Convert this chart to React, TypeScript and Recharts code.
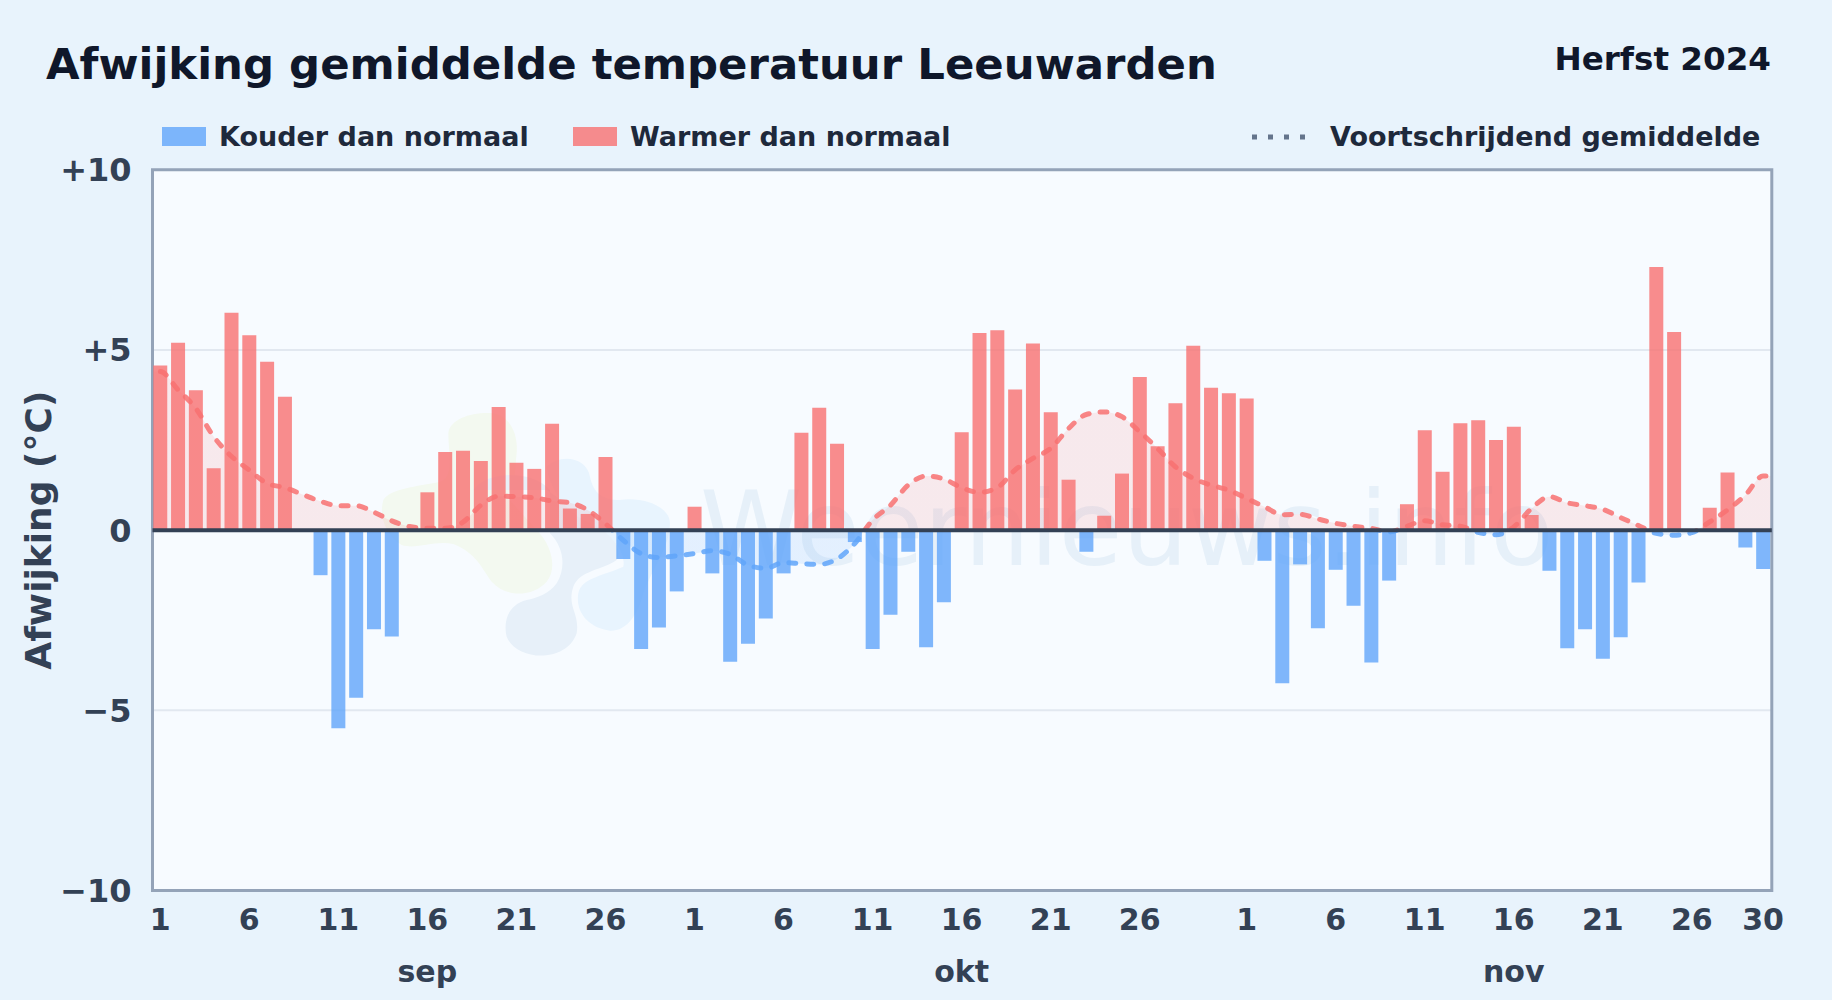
import { Area, Bar, CartesianGrid, Cell, ComposedChart, ReferenceArea, ReferenceLine, XAxis, YAxis } from 'recharts'

// afwijking per dag, 1 sep t/m 30 nov
const septemberValues = [
  4.57, 5.2, 3.88, 1.72, 6.03, 5.41, 4.67, 3.7, 0, -1.25, -5.5, -4.65, -2.75, -2.95, 0, 1.05, 2.17, 2.2, 1.92, 3.42,
  1.87, 1.7, 2.95, 0.6, 0.45, 2.03, -0.8, -3.3, -2.7, -1.7,
]
const oktoberValues = [
  0.65, -1.2, -3.65, -3.15, -2.45, -1.2, 2.7, 3.4, 2.4, -0.33, -3.3, -2.35, -0.6, -3.25, -2.0, 2.72, 5.47, 5.55, 3.9,
  5.18, 3.27, 1.4, -0.6, 0.4, 1.57, 4.25, 2.33, 3.52, 5.12, 3.95, 3.8,
]
const novemberValues = [
  3.65, -0.85, -4.25, -0.95, -2.72, -1.1, -2.1, -3.67, -1.4, 0.72, 2.77, 1.62, 2.97, 3.05, 2.5, 2.87, 0.42, -1.13,
  -3.28, -2.75, -3.57, -2.97, -1.45, 7.3, 5.5, 0, 0.62, 1.6, -0.48, -1.08,
]

// voortschrijdend gemiddelde per dag
const runningMean = [
  4.4, 3.9, 3.38, 2.6, 2.05, 1.67, 1.3, 1.18, 0.99, 0.8, 0.68, 0.68, 0.5, 0.26, 0.1, 0.05, 0.05, 0.22, 0.69, 0.94,
  0.93, 0.9, 0.81, 0.76, 0.56, 0.18, -0.28, -0.65, -0.76, -0.71, -0.65, -0.57, -0.67, -0.97, -1.06, -0.9, -0.93, -0.95,
  -0.8, -0.37, 0.28, 0.69, 1.25, 1.5, 1.42, 1.18, 1.05, 1.18, 1.67, 1.99, 2.27, 2.82, 3.21, 3.28, 3.15, 2.73, 2.27,
  1.76, 1.44, 1.25, 1.11, 0.88, 0.65, 0.43, 0.44, 0.31, 0.19, 0.11, 0.05, -0.05, 0.11, 0.26, 0.15, 0.11, -0.06, -0.13,
  0.09, 0.6, 0.93, 0.76, 0.68, 0.58, 0.35, 0.13, -0.09, -0.14, -0.07, 0.23, 0.56, 0.97, 1.5,
]

const yTicks = [-10, -5, 0, 5, 10]
const dayTicks = [1, 6, 11, 16, 21, 26, 31, 36, 41, 46, 51, 56, 62, 67, 72, 77, 82, 87, 91]
const dayTickLabels = ['1', '6', '11', '16', '21', '26', '1', '6', '11', '16', '21', '26', '1', '6', '11', '16', '21', '26', '30']
const monthTicks = [16, 46, 77]
const monthLabels = ['sep', 'okt', 'nov']

const WIDTH = 1832
const HEIGHT = 1000
const PLOT = { left: 152.5, right: 1771.8, top: 169.8, bottom: 890.5 }
const X_DOMAIN: [number, number] = [0.57, 91.49]

const RED = '#f87171'
const BLUE = '#60a5fa'
const FONT = '"DejaVu Sans", sans-serif'

const dayValues = [...septemberValues, ...oktoberValues, ...novemberValues]

// extra rij aan beide kanten zodat de lijn tot aan de rand doorloopt (wordt geclipt op de plot)
const rows = [
  { day: 0, mean: runningMean[0] },
  ...dayValues.map((value, i) => ({ day: i + 1, value, mean: runningMean[i] })),
  { day: 92, mean: runningMean[runningMean.length - 1] },
]

const formatY = (v: number) => (v > 0 ? `+${v}` : v < 0 ? `\u2212${-v}` : '0')
const formatDay = (v: number) => dayTickLabels[dayTicks.indexOf(v)] ?? ''
const formatMonth = (v: number) => monthLabels[monthTicks.indexOf(v)] ?? ''

const tickStyle = { fill: '#334155', fontSize: 30, fontWeight: 700, fontFamily: FONT }

// vage watermerk-vlekken achter de grafiek
function Watermark() {
  return (
    <svg width={WIDTH} height={HEIGHT} style={{ position: 'absolute', left: 0, top: 0 }}>
      <rect
        x={PLOT.left}
        y={PLOT.top}
        width={PLOT.right - PLOT.left}
        height={PLOT.bottom - PLOT.top}
        fill="#f7fbff"
      />
      <g transform="translate(360 390) scale(0.3333)">
        <path
          d="M265 130C270 85 340 65 400 70C450 80 475 130 470 190C465 230 470 270 440 320L530 420C580 470 590 540 560 575C520 620 440 625 395 575C365 535 350 490 280 462C220 450 170 480 125 465C80 440 55 380 70 330C90 295 170 290 240 275C285 260 265 190 265 130Z"
          fill="#f3f9f0"
        />
        <path
          d="M340 300C380 240 520 240 570 300L570 430C610 470 620 530 590 580C570 610 530 625 500 630C440 645 430 700 440 740C470 815 620 820 650 730C660 670 620 650 640 590C660 540 730 540 770 510C790 470 750 430 710 400L560 300Z"
          fill="#e7f0f9"
        />
        <path
          d="M560 230C600 190 680 200 690 260C700 310 730 330 780 330C850 320 930 350 930 400C930 470 880 530 850 610C830 690 790 725 750 722C690 715 645 670 655 610C665 565 720 560 790 530C800 480 740 420 690 400C620 370 570 300 560 230Z"
          fill="#e8f4fe"
        />
      </g>
      <text x={700} y={565} fontFamily={FONT} fontSize={103.5} fill="#e6f0f9">
        Weernieuws.info
      </text>
    </svg>
  )
}

function LegendBar() {
  const label = { position: 'absolute' as const, top: 120, fontSize: 27, fontWeight: 700, color: '#1e293b', lineHeight: '34px', whiteSpace: 'nowrap' as const }
  const swatch = { position: 'absolute' as const, top: 127, width: 44, height: 19 }
  return (
    <>
      <div style={{ ...swatch, left: 162, background: BLUE, opacity: 0.8 }} />
      <div style={{ ...label, left: 219 }}>Kouder dan normaal</div>
      <div style={{ ...swatch, left: 573, background: RED, opacity: 0.8 }} />
      <div style={{ ...label, left: 630 }}>Warmer dan normaal</div>
      <svg width={60} height={8} style={{ position: 'absolute', left: 1250, top: 133 }}>
        <line x1={2} y1={4} x2={58} y2={4} stroke="#64748b" strokeWidth={5} strokeDasharray="5 11" />
      </svg>
      <div style={{ ...label, left: 1330 }}>Voortschrijdend gemiddelde</div>
    </>
  )
}

export default function App() {
  return (
    <div
      style={{
        position: 'absolute',
        left: 0,
        top: 0,
        width: WIDTH,
        height: HEIGHT,
        background: '#e8f3fc',
        overflow: 'hidden',
        fontFamily: FONT,
      }}
    >
      <Watermark />
      <div
        style={{ position: 'absolute', left: 46, top: 38, fontSize: 43.4, fontWeight: 700, color: '#0f172a', lineHeight: '52px', whiteSpace: 'nowrap' }}
      >
        Afwijking gemiddelde temperatuur Leeuwarden
      </div>
      <div
        style={{ position: 'absolute', right: 61, top: 39, fontSize: 32.6, fontWeight: 700, color: '#0f172a', lineHeight: '40px', whiteSpace: 'nowrap' }}
      >
        Herfst 2024
      </div>
      <LegendBar />
      <div style={{ position: 'absolute', left: 0, top: 0 }}>
        <ComposedChart
          width={WIDTH}
          height={HEIGHT}
          data={rows}
          margin={{ top: PLOT.top, right: WIDTH - PLOT.right, bottom: 0, left: 0 }}
        >
          <defs>
            <linearGradient id="meanStroke" gradientUnits="userSpaceOnUse" x1="0" y1={PLOT.top} x2="0" y2={PLOT.bottom}>
              <stop offset="50%" stopColor={RED} />
              <stop offset="50%" stopColor={BLUE} />
            </linearGradient>
            <linearGradient id="meanFill" gradientUnits="userSpaceOnUse" x1="0" y1={PLOT.top} x2="0" y2={PLOT.bottom}>
              <stop offset="50%" stopColor={RED} stopOpacity={0.13} />
              <stop offset="50%" stopColor={BLUE} stopOpacity={0.13} />
            </linearGradient>
          </defs>
          <CartesianGrid vertical={false} stroke="#e2e8f0" strokeWidth={2} />
          <XAxis
            dataKey="day"
            type="number"
            domain={X_DOMAIN}
            allowDataOverflow
            ticks={dayTicks}
            interval={0}
            tickFormatter={formatDay}
            tick={tickStyle}
            tickLine={false}
            axisLine={false}
            tickSize={0}
            tickMargin={18}
            height={60}
          />
          <XAxis
            xAxisId="months"
            dataKey="day"
            type="number"
            domain={X_DOMAIN}
            allowDataOverflow
            ticks={monthTicks}
            interval={0}
            tickFormatter={formatMonth}
            tick={tickStyle}
            tickLine={false}
            axisLine={false}
            tickSize={0}
            tickMargin={10}
            height={49.5}
          />
          <YAxis
            type="number"
            domain={[-10, 10]}
            ticks={yTicks}
            interval={0}
            tickFormatter={formatY}
            tick={{ ...tickStyle, fontSize: 32 }}
            tickLine={false}
            axisLine={false}
            tickSize={0}
            tickMargin={21}
            width={PLOT.left}
            label={{
              value: 'Afwijking (\u00b0C)',
              angle: -90,
              position: 'insideLeft',
              offset: 38,
              style: { ...tickStyle, fontSize: 36, textAnchor: 'middle' },
            }}
          />
          <Area
            dataKey="mean"
            type="monotone"
            baseValue={0}
            stroke="url(#meanStroke)"
            strokeOpacity={0.85}
            strokeWidth={5}
            strokeDasharray="7 11"
            strokeLinecap="round"
            fill="url(#meanFill)"
            fillOpacity={1}
            dot={false}
            activeDot={false}
            isAnimationActive={false}
          />
          <Bar dataKey="value" barSize={14} isAnimationActive={false}>
            {rows.map((row) => (
              <Cell key={row.day} fill={(row.value ?? 0) < 0 ? BLUE : RED} fillOpacity={0.8} />
            ))}
          </Bar>
          <ReferenceLine y={0} stroke="#334155" strokeWidth={4} />
          <ReferenceArea x1={X_DOMAIN[0]} x2={X_DOMAIN[1]} y1={-10} y2={10} fill="none" stroke="#94a3b8" strokeWidth={3} />
        </ComposedChart>
      </div>
    </div>
  )
}
